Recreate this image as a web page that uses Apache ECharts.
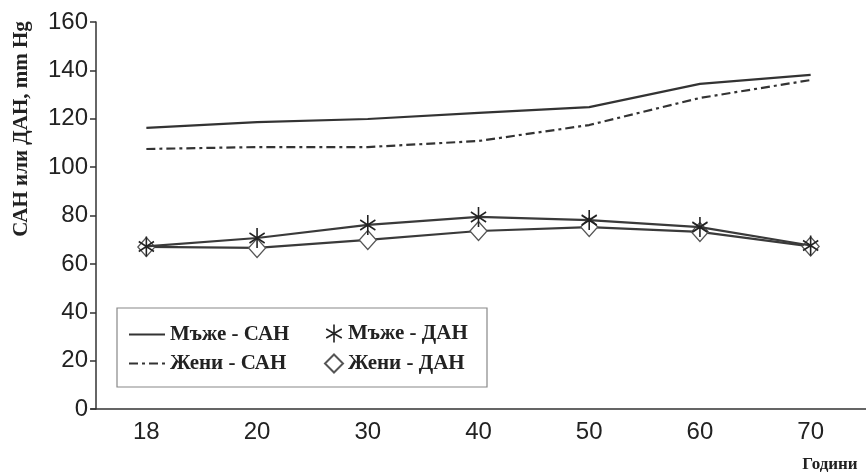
<!DOCTYPE html>
<html>
<head>
<meta charset="utf-8">
<script src="https://cdn.jsdelivr.net/npm/echarts@6/dist/echarts.min.js"></script>
<style>
  html, body { margin: 0; padding: 0; background: #fff; }
  #chart { width: 866px; height: 474px; }
</style>
</head>
<body>
<div id="chart"></div>
<script>
// Age groups (years)
const ages = ['18', '20', '30', '40', '50', '60', '70'];
// Systolic (САН) and diastolic (ДАН) pressure, mm Hg
const menSystolic   = [116.2, 118.6, 119.9, 122.4, 124.8, 134.4, 138.1];
const womenSystolic = [107.5, 108.3, 108.3, 110.8, 117.4, 128.6, 136.0];
const menDiastolic  = [67.2, 70.7, 76.1, 79.4, 78.1, 75.2, 67.6];
const womenDiastolic = [67.0, 66.6, 69.9, 73.6, 75.2, 73.2, 67.2];
const yTicks = { min: 0, max: 160, step: 20 };

const ink = '#333';
const serif = '"Liberation Serif", "DejaVu Serif", serif';
const narrow = '"Liberation Sans Narrow", "Liberation Sans", sans-serif';

// Six-armed asterisk marker built from three thin bars
function asteriskPath() {
  const w = 0.09, L = 1;
  const base = [[-w, -L], [w, -L], [w, L], [-w, L]];
  let d = '';
  [0, 60, -60].forEach(function (deg) {
    const a = deg * Math.PI / 180, c = Math.cos(a), s = Math.sin(a);
    base.forEach(function (p, i) {
      const x = p[0] * c - p[1] * s, y = p[0] * s + p[1] * c;
      d += (i === 0 ? 'M' : 'L') + x.toFixed(3) + ' ' + y.toFixed(3) + ' ';
    });
    d += 'Z ';
  });
  return 'path://' + d;
}
const starSymbol = asteriskPath();

const chart = echarts.init(document.getElementById('chart'), null, { renderer: 'canvas' });

const legendText = { fontFamily: serif, fontWeight: 'bold', fontSize: 21, color: '#222' };
// line-only legend keys (hide the default marker drawn on the key)
const lineKey = { itemStyle: { opacity: 0 } };

chart.setOption({
  backgroundColor: '#fff',
  animation: false,
  grid: { left: 91, top: 22, width: 785, height: 387, containLabel: false },
  xAxis: {
    type: 'category',
    data: ages,
    boundaryGap: true,
    axisLine: { lineStyle: { color: ink, width: 1.5 } },
    axisTick: { alignWithLabel: true, length: 7, lineStyle: { color: ink, width: 1.5 } },
    axisLabel: { margin: 11, fontFamily: narrow, fontSize: 24, color: '#222' },
    splitLine: { show: false }
  },
  yAxis: {
    type: 'value',
    min: yTicks.min,
    max: yTicks.max,
    interval: yTicks.step,
    offset: -5,
    axisLine: { show: true, lineStyle: { color: ink, width: 1.5 } },
    axisTick: { show: true, length: 6, lineStyle: { color: ink, width: 1.5 } },
    axisLabel: { margin: 8, fontFamily: narrow, fontSize: 24, color: '#222' },
    splitLine: { show: false }
  },
  legend: [
    {
      orient: 'vertical',
      left: 128,
      top: 324,
      padding: 0,
      itemWidth: 36,
      itemHeight: 14,
      itemGap: 8,
      textStyle: legendText,
      data: [
        Object.assign({ name: 'Мъже - САН' }, lineKey),
        Object.assign({ name: 'Жени - САН' }, lineKey)
      ]
    },
    {
      orient: 'vertical',
      left: 324,
      top: 323,
      padding: 0,
      itemWidth: 18,
      itemHeight: 18,
      itemGap: 9,
      textStyle: legendText,
      data: [
        { name: 'Мъже - ДАН', icon: starSymbol },
        { name: 'Жени - ДАН', icon: 'diamond' }
      ]
    }
  ],
  graphic: [
    {
      type: 'rect',
      shape: { x: 117, y: 308, width: 370, height: 79 },
      style: { fill: 'none', stroke: '#888', lineWidth: 1.2 },
      z: 1
    },
    {
      type: 'text',
      x: 22,
      y: 129,
      rotation: Math.PI / 2,
      style: {
        text: 'САН или ДАН, mm Hg',
        fontFamily: serif,
        fontWeight: 'bold',
        fontSize: 21,
        fill: '#222',
        align: 'center',
        verticalAlign: 'middle'
      }
    },
    {
      type: 'text',
      x: 830,
      y: 465,
      style: {
        text: 'Години',
        fontFamily: serif,
        fontWeight: 'bold',
        fontSize: 17,
        fill: '#222',
        align: 'center',
        verticalAlign: 'middle'
      }
    }
  ],
  series: [
    {
      name: 'Мъже - САН',
      type: 'line',
      data: menSystolic,
      symbol: 'none',
      color: ink,
      lineStyle: { color: ink, width: 2.2, type: 'solid' },
      z: 2
    },
    {
      name: 'Жени - САН',
      type: 'line',
      data: womenSystolic,
      symbol: 'none',
      color: ink,
      lineStyle: { color: ink, width: 2.2, type: [9, 4, 3, 4] },
      z: 2
    },
    {
      name: 'Жени - ДАН',
      type: 'line',
      data: womenDiastolic,
      symbol: 'diamond',
      symbolSize: [17, 19],
      showAllSymbol: true,
      itemStyle: { color: '#fff', borderColor: '#555', borderWidth: 1.3 },
      lineStyle: { color: '#3a3a3a', width: 2.2 },
      z: 3
    },
    {
      name: 'Мъже - ДАН',
      type: 'line',
      data: menDiastolic,
      symbol: starSymbol,
      symbolSize: [16, 20],
      showAllSymbol: true,
      itemStyle: { color: '#222' },
      lineStyle: { color: '#3a3a3a', width: 2.2 },
      z: 4
    }
  ]
});
</script>
</body>
</html>
